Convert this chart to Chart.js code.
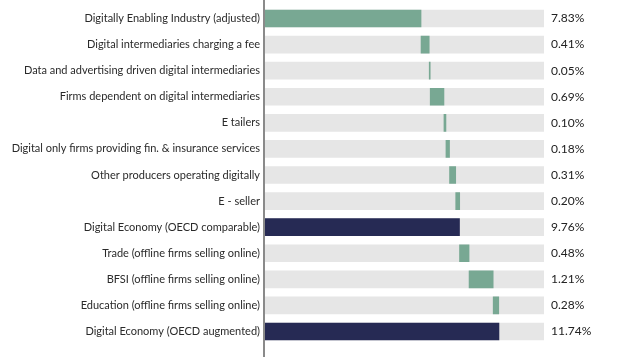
<!DOCTYPE html>
<html>
<head>
<meta charset="utf-8">
<script src="https://cdn.jsdelivr.net/npm/chart.js@4/dist/chart.umd.min.js"></script>
<style>
html,body{margin:0;padding:0;background:#fff;}
#wrap{width:641px;height:363px;position:relative;}
</style>
</head>
<body>
<div id="wrap"><canvas id="c"></canvas></div>
<script>
const categories = [
  "Digitally Enabling Industry (adjusted)",
  "Digital intermediaries charging a fee",
  "Data and advertising driven digital intermediaries",
  "Firms dependent on digital intermediaries",
  "E tailers",
  "Digital only firms providing fin. & insurance services",
  "Other producers operating digitally",
  "E - seller",
  "Digital Economy (OECD comparable)",
  "Trade (offline firms selling online)",
  "BFSI (offline firms selling online)",
  "Education (offline firms selling online)",
  "Digital Economy (OECD augmented)"
];
const values = [7.83, 0.41, 0.05, 0.69, 0.10, 0.18, 0.31, 0.20, 9.76, 0.48, 1.21, 0.28, 11.74];
const isTotal = [false, false, false, false, false, false, false, false, true, false, false, false, true];
const valueLabels = ["7.83%", "0.41%", "0.05%", "0.69%", "0.10%", "0.18%", "0.31%", "0.20%", "9.76%", "0.48%", "1.21%", "0.28%", "11.74%"];
const axisMax = 14;

const GREEN = "#78a893";
const NAVY = "#262a54";
const BG = "#e6e6e6";

let running = 0;
const floating = values.map((v, i) => {
  if (isTotal[i]) { running = v; return [0, v]; }
  const s = running; running += v; return [s, running];
});
const barColors = isTotal.map(t => t ? NAVY : GREEN);

const axisLine = {
  id: 'axisLine',
  afterDatasetsDraw(chart) {
    const ctx = chart.ctx, x = chart.chartArea.left - 1;
    ctx.save();
    ctx.strokeStyle = "#8a8a8a";
    ctx.lineWidth = 2;
    ctx.beginPath();
    ctx.moveTo(x, 0);
    ctx.lineTo(x, 357);
    ctx.stroke();
    ctx.restore();
  }
};

new Chart(document.getElementById('c'), {
  type: 'bar',
  data: {
    labels: categories,
    datasets: [
      { data: floating, backgroundColor: barColors, barThickness: 17, grouped: false, order: 1 },
      { data: categories.map(() => [0, axisMax]), backgroundColor: BG, barThickness: 17, grouped: false, order: 2 }
    ]
  },
  options: {
    indexAxis: 'y',
    responsive: true,
    maintainAspectRatio: false,
    animation: false,
    layout: { padding: { top: 5.5, bottom: 18.5, left: 0, right: 0 } },
    plugins: { legend: { display: false }, tooltip: { enabled: false } },
    scales: {
      x: { display: false, min: 0, max: axisMax },
      y: {
        position: 'left',
        grid: { display: false, drawTicks: false },
        border: { display: false },
        ticks: { color: "#2a2a2a", font: { family: "Lato", size: 11 }, padding: 5, autoSkip: false },
        afterFit(s) { s.width = 265; s.paddingTop = 0; s.paddingBottom = 0; }
      },
      y2: {
        type: 'category',
        position: 'right',
        labels: valueLabels,
        offset: true,
        grid: { display: false, drawTicks: false },
        border: { display: false },
        ticks: { color: "#222", font: { family: "Lato", size: 12 }, padding: 7, autoSkip: false },
        afterFit(s) { s.width = 97; s.paddingTop = 0; s.paddingBottom = 0; }
      }
    }
  },
  plugins: [axisLine]
});
</script>
</body>
</html>
